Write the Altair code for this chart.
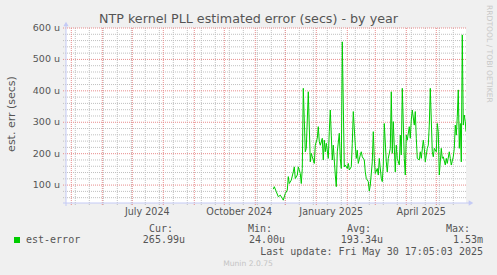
import altair as alt
import pandas as pd

TITLE = "NTP kernel PLL estimated error (secs) - by year"
Y_TITLE = "est. err (secs)"
SERIES = "est-error"

# daily estimated error, in microseconds (u)
dates = [
    "2024-11-19", "2024-11-20", "2024-11-22", "2024-11-24", "2024-11-26", "2024-11-28", "2024-11-29", "2024-12-01", "2024-12-03", "2024-12-04",
    "2024-12-05", "2024-12-07", "2024-12-09", "2024-12-10", "2024-12-11", "2024-12-13", "2024-12-14", "2024-12-16", "2024-12-17", "2024-12-18",
    "2024-12-19", "2024-12-21", "2024-12-22", "2024-12-24", "2024-12-26", "2024-12-27", "2024-12-28", "2024-12-30", "2024-12-31", "2025-01-02",
    "2025-01-03", "2025-01-04", "2025-01-05", "2025-01-07", "2025-01-08", "2025-01-09", "2025-01-10", "2025-01-11", "2025-01-13", "2025-01-14",
    "2025-01-15", "2025-01-16", "2025-01-17", "2025-01-18", "2025-01-20", "2025-01-21", "2025-01-22", "2025-01-24", "2025-01-25", "2025-01-26",
    "2025-01-27", "2025-01-29", "2025-01-30", "2025-02-01", "2025-02-02", "2025-02-03", "2025-02-05", "2025-02-06", "2025-02-07", "2025-02-09",
    "2025-02-10", "2025-02-11", "2025-02-12", "2025-02-14", "2025-02-15", "2025-02-16", "2025-02-18", "2025-02-19", "2025-02-20", "2025-02-22",
    "2025-02-23", "2025-02-24", "2025-02-26", "2025-02-27", "2025-02-28", "2025-03-01", "2025-03-03", "2025-03-04", "2025-03-05", "2025-03-07",
    "2025-03-08", "2025-03-09", "2025-03-10", "2025-03-12", "2025-03-13", "2025-03-14", "2025-03-16", "2025-03-17", "2025-03-18", "2025-03-19",
    "2025-03-21", "2025-03-22", "2025-03-23", "2025-03-25", "2025-03-26", "2025-03-27", "2025-03-28", "2025-03-30", "2025-03-31", "2025-04-01",
    "2025-04-02", "2025-04-04", "2025-04-05", "2025-04-06", "2025-04-07", "2025-04-09", "2025-04-10", "2025-04-11", "2025-04-12", "2025-04-14",
    "2025-04-15", "2025-04-16", "2025-04-18", "2025-04-19", "2025-04-20", "2025-04-22", "2025-04-23", "2025-04-24", "2025-04-25", "2025-04-27",
    "2025-04-28", "2025-04-29", "2025-05-01", "2025-05-02", "2025-05-03", "2025-05-04", "2025-05-06", "2025-05-07", "2025-05-08", "2025-05-10",
    "2025-05-11", "2025-05-12", "2025-05-14", "2025-05-15", "2025-05-16", "2025-05-18", "2025-05-19", "2025-05-20", "2025-05-21", "2025-05-22",
    "2025-05-23", "2025-05-24", "2025-05-25", "2025-05-26", "2025-05-27", "2025-05-28", "2025-05-29", "2025-05-30", "2025-05-30T16:00:00Z",
]
values = [
    87, 95, 79, 63, 68, 58, 52, 73, 84, 127,
    105, 116, 142, 158, 121, 132, 158, 137, 105, 153,
    408, 206, 217, 397, 174, 201, 190, 169, 227, 249,
    286, 238, 227, 249, 180, 243, 206, 233, 185, 270,
    339, 259, 180, 227, 132, 95, 206, 265, 185, 153,
    556, 158, 164, 153, 169, 148, 158, 233, 334, 227,
    185, 211, 169, 196, 206, 190, 180, 142, 121, 111,
    81, 100, 174, 270, 185, 137, 153, 132, 185, 121,
    111, 164, 296, 174, 142, 185, 217, 397, 201, 302,
    142, 227, 185, 164, 259, 196, 408, 185, 132, 259,
    243, 286, 249, 307, 339, 291, 334, 249, 185, 180,
    206, 185, 243, 217, 174, 217, 227, 291, 408, 206,
    190, 217, 206, 296, 270, 132, 217, 185, 190, 164,
    185, 169, 206, 185, 164, 190, 217, 291, 259, 318,
    403, 217, 296, 174, 578, 291, 323, 302, 270,
]

y_major = [100, 200, 300, 400, 500, 600]
y_labels = ["100 u", "200 u", "300 u", "400 u", "500 u", "600 u"]
y_minor = [60, 80, 120, 140, 160, 180, 220, 240, 260, 280, 320, 340, 360, 380,
           420, 440, 460, 480, 520, 540, 560, 580]
month_starts = ["2024-05-01", "2024-06-01", "2024-07-01", "2024-08-01", "2024-09-01",
                "2024-10-01", "2024-11-01", "2024-12-01", "2025-01-01", "2025-02-01",
                "2025-03-01", "2025-04-01", "2025-05-01"]
biweekly = ["2024-05-05", "2024-05-19", "2024-06-02", "2024-06-16", "2024-06-30",
            "2024-07-14", "2024-07-28", "2024-08-11", "2024-08-25", "2024-09-08",
            "2024-09-22", "2024-10-06", "2024-10-20", "2024-11-03", "2024-11-17",
            "2024-12-01", "2024-12-15", "2024-12-29", "2025-01-12", "2025-01-26",
            "2025-02-09", "2025-02-23", "2025-03-09", "2025-03-23", "2025-04-06",
            "2025-04-20", "2025-05-04", "2025-05-18"]
x_label_dates = ["2024-07-16", "2024-10-16", "2025-01-16", "2025-04-16"]
x_labels = ["July 2024", "October 2024", "January 2025", "April 2025"]
x_start, x_end = "2024-04-25T17:05:03", "2025-05-30T17:05:03"
y_domain = [43, 600]

legend_headers = ["Cur:", "Min:", "Avg:", "Max:"]
legend_values = ["265.99u", "24.00u", "193.34u", "1.53m"]
last_update = "Last update: Fri May 30 17:05:03 2025"
footer = "Munin 2.0.75"
side_text = "RRDTOOL / TOBI OETIKER"


def ms(s):
    return int(pd.Timestamp(s, tz="UTC").value // 10**6)


W, H = 400, 175
LEFT, TOP = 66, 28
GREEN = "#00CC00"
TXT = "#555555"
AXIS_C = "#C4CAF5"
SANS = "DejaVu Sans"
MONO = "DejaVu Sans Mono"

xs = alt.Scale(type="utc", domain=[ms(x_start), ms(x_end)])
ys = alt.Scale(domain=y_domain, nice=False, zero=False)

df = pd.DataFrame({"date": dates, "v": values})

layers = []

# grids
layers.append(
    alt.Chart(pd.DataFrame({"v": y_minor})).mark_rule(
        color="#C0C0C0", strokeDash=[1, 1], strokeWidth=1
    ).encode(y=alt.Y("v:Q", scale=ys, axis=None), x=alt.value(-3), x2=alt.value(W))
)
layers.append(
    alt.Chart(pd.DataFrame({"d": biweekly})).mark_rule(
        color="#C0C0C0", strokeDash=[1, 1], strokeWidth=1
    ).encode(x=alt.X("d:T", scale=xs, axis=None), y=alt.value(0), y2=alt.value(H + 3))
)
layers.append(
    alt.Chart(pd.DataFrame({"v": y_major})).mark_rule(
        color="#E88C8C", strokeDash=[1, 1], strokeWidth=1
    ).encode(y=alt.Y("v:Q", scale=ys, axis=None), x=alt.value(-3), x2=alt.value(W))
)
layers.append(
    alt.Chart(pd.DataFrame({"d": month_starts})).mark_rule(
        color="#E88C8C", strokeDash=[1, 1], strokeWidth=1
    ).encode(x=alt.X("d:T", scale=xs, axis=None), y=alt.value(0), y2=alt.value(H + 3))
)

# data line
layers.append(
    alt.Chart(df).mark_line(color=GREEN, strokeWidth=1, clip=True).encode(
        x=alt.X("date:T", scale=xs, axis=None),
        y=alt.Y("v:Q", scale=ys, axis=None),
    )
)

# tick labels
layers.append(
    alt.Chart(pd.DataFrame({"v": y_major, "t": y_labels})).mark_text(
        font=SANS, fontSize=9.5, color=TXT, align="right", baseline="middle"
    ).encode(y=alt.Y("v:Q", scale=ys, axis=None), x=alt.value(-6), text="t:N")
)
layers.append(
    alt.Chart(pd.DataFrame({"d": x_label_dates, "t": x_labels})).mark_text(
        font=SANS, fontSize=9.6, color=TXT, align="center", baseline="top"
    ).encode(x=alt.X("d:T", scale=xs, axis=None), y=alt.value(H + 4), text="t:N")
)

# axis lines and arrows
one = pd.DataFrame({"k": [0]})
layers.append(alt.Chart(one).mark_rule(color=AXIS_C, strokeWidth=1).encode(
    x=alt.value(-3), x2=alt.value(W + 3), y=alt.value(H)))
layers.append(alt.Chart(one).mark_rule(color=AXIS_C, strokeWidth=1).encode(
    x=alt.value(0), y=alt.value(H + 3), y2=alt.value(-3)))
layers.append(alt.Chart(one).mark_point(shape="triangle-up", filled=True, size=28,
                                        color=AXIS_C, opacity=1).encode(
    x=alt.value(0), y=alt.value(-4)))
layers.append(alt.Chart(one).mark_point(shape="triangle-right", filled=True, size=28,
                                        color=AXIS_C, opacity=1).encode(
    x=alt.value(W + 5), y=alt.value(H)))


def txt(text, x, y, size, font=SANS, color=TXT, align="left", baseline="middle", angle=0):
    return alt.Chart(pd.DataFrame({"t": [text]})).mark_text(
        font=font, fontSize=size, color=color, align=align, baseline=baseline, angle=angle
    ).encode(text="t:N", x=alt.value(x), y=alt.value(y))


layers.append(txt(TITLE, 248.5 - LEFT, 19 - TOP, 12.7, align="center"))
layers.append(txt(Y_TITLE, 12 - LEFT, 114 - TOP, 11, align="center", angle=270))
layers.append(txt(side_text, 489 - LEFT, 5 - TOP, 7.6, color="#C8C8C8", angle=90))

# legend
layers.append(alt.Chart(one).mark_point(shape="square", filled=True, size=36,
                                        color=GREEN, opacity=1).encode(
    x=alt.value(17 - LEFT), y=alt.value(240 - TOP)))
layers.append(txt(SERIES, 26 - LEFT, 240 - TOP, 10, font=MONO))
header_right = [173, 272, 371, 470]
value_right = [185, 285, 383, 483]
for h, hx in zip(legend_headers, header_right):
    layers.append(txt(h, hx - LEFT, 229 - TOP, 10, font=MONO, align="right"))
for v, vx in zip(legend_values, value_right):
    layers.append(txt(v, vx - LEFT, 240 - TOP, 10, font=MONO, align="right"))
layers.append(txt(last_update, 483 - LEFT, 251.5 - TOP, 10, font=MONO, align="right"))
layers.append(txt(footer, 248 - LEFT, 264 - TOP, 7.6, color="#C4C4C4", align="center"))

chart = alt.layer(*layers).properties(
    width=W, height=H,
    padding={"left": LEFT, "top": TOP, "right": 497 - LEFT - W, "bottom": 275 - TOP - H},
    autosize="none",
    background="#F0F0F0",
).configure_view(fill="#FFFFFF", strokeWidth=0)

chart.save("out.html", embed_options={"renderer": "svg", "actions": False})
